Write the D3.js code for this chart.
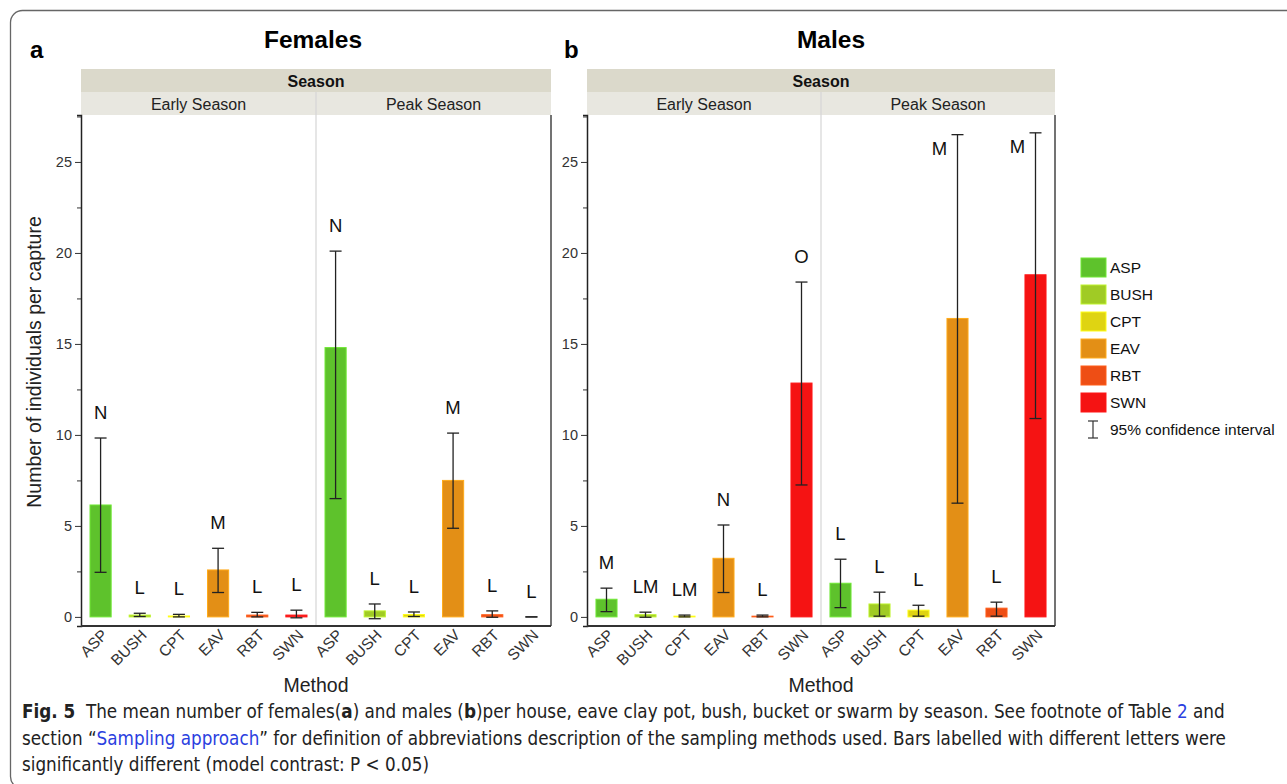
<!DOCTYPE html>
<html>
<head>
<meta charset="utf-8">
<title>Fig. 5</title>
<script src="https://d3js.org/d3.v7.min.js"></script>
<style>
  html, body { margin: 0; padding: 0; background: #fff; }
  svg { display: block; font-family: "Liberation Sans", Arial, Helvetica, sans-serif; }
  .caption { font-family: "Liberation Sans Narrow", "DejaVu Sans Condensed", "Liberation Sans", sans-serif; }
</style>
</head>
<body>
<div id="chart"></div>
<script>
// categories
const methods = ["ASP", "BUSH", "CPT", "EAV", "RBT", "SWN"];
const seasons = ["Early Season", "Peak Season"];
const methodColors = ["#5ec22c", "#a0cb25", "#dfd412", "#e38f16", "#ee4e15", "#f51313"];
const yTicks = [0, 5, 10, 15, 20, 25];
const yMinorTicks = [2.5, 7.5, 12.5, 17.5, 22.5, 27.5];

// Females: early season (6) then peak season (6)
const femaleMean  = [6.15, 0.10, 0.05, 2.58, 0.10, 0.10, 14.8, 0.33, 0.13, 7.50, 0.12, 0.00];
const femaleLow   = [2.45, 0.02, 0.00, 1.34, 0.00, -0.05, 6.50, -0.10, 0.02, 4.87, -0.02, 0.00];
const femaleHigh  = [9.83, 0.20, 0.14, 3.77, 0.25, 0.37, 20.1, 0.71, 0.27, 10.1, 0.33, 0.00];
const femaleLetters = ["N", "L", "L", "M", "L", "L", "N", "L", "L", "M", "L", "L"];

// Males
const maleMean  = [0.97, 0.12, 0.04, 3.22, 0.04, 12.85, 1.85, 0.71, 0.37, 16.4, 0.48, 18.8];
const maleLow   = [0.29, -0.02, 0.00, 1.34, 0.00, 7.25, 0.51, 0.04, 0.04, 6.25, 0.04, 10.9];
const maleHigh  = [1.58, 0.26, 0.10, 5.05, 0.10, 18.4, 3.17, 1.36, 0.64, 26.5, 0.81, 26.6];
const maleLetters = ["M", "LM", "LM", "N", "L", "O", "L", "L", "L", "M", "L", "M"];

const W = 1287, H = 784;
const plotTop = 115, plotBottom = 626;

const svg = d3.select("#chart").append("svg")
  .attr("width", W).attr("height", H);

svg.append("rect").attr("width", W).attr("height", H).attr("fill", "#fff");

// figure card frame
svg.append("rect")
  .attr("x", 10.5).attr("y", 10.5)
  .attr("width", 1400).attr("height", 778)
  .attr("rx", 12)
  .attr("fill", "none").attr("stroke", "#666").attr("stroke-width", 1.3);

const y = d3.scaleLinear().domain([-0.5, 27.58]).range([plotBottom, plotTop]);
const color = d3.scaleOrdinal().domain(methods).range(methodColors);

const panels = [
  { tag: "a", tagX: 30, title: "Females", x0: 81, x1: 551, mean: femaleMean, low: femaleLow, high: femaleHigh, letters: femaleLetters },
  { tag: "b", tagX: 564, title: "Males", x0: 587, x1: 1055, mean: maleMean, low: maleLow, high: maleHigh, letters: maleLetters }
];

panels.forEach(p => {
  const rows = seasons.flatMap((s, si) => methods.map((m, mi) => {
    const i = si * methods.length + mi;
    return { key: s + "|" + m, season: s, method: m, mean: p.mean[i], low: p.low[i], high: p.high[i], letter: p.letters[i] };
  }));

  const x = d3.scaleBand()
    .domain(rows.map(d => d.key))
    .range([p.x0, p.x1])
    .paddingInner(0.46)
    .paddingOuter(0.23);

  const g = svg.append("g");
  const mid = (p.x0 + p.x1) / 2;

  // panel letter and title
  g.append("text").attr("x", p.tagX).attr("y", 58)
    .style("font-size", "24px").style("font-weight", "bold").text(p.tag);
  g.append("text").attr("x", mid + (p.tag === "b" ? 10 : -3)).attr("y", 48)
    .attr("text-anchor", "middle")
    .style("font-size", "24.5px").style("font-weight", "bold").text(p.title);

  // strip headers
  g.append("rect").attr("x", p.x0).attr("y", 69).attr("width", p.x1 - p.x0).attr("height", 23).attr("fill", "#dbd9cb");
  g.append("rect").attr("x", p.x0).attr("y", 92).attr("width", p.x1 - p.x0).attr("height", 23).attr("fill", "#e8e7e0");
  g.append("text").attr("x", mid).attr("y", 87).attr("text-anchor", "middle")
    .style("font-size", "16px").style("font-weight", "bold").attr("fill", "#111").text("Season");
  seasons.forEach((s, si) => {
    const cx = p.x0 + (p.x1 - p.x0) * (si + 0.5) / 2;
    g.append("text").attr("x", cx).attr("y", 109.5).attr("text-anchor", "middle")
      .style("font-size", "16px").attr("fill", "#222").text(s);
  });

  // season divider
  g.append("line").attr("x1", mid).attr("x2", mid).attr("y1", 92).attr("y2", plotBottom)
    .attr("stroke", "#d6d6d6").attr("stroke-width", 1.2);

  // bars
  g.selectAll("rect.bar").data(rows).enter().append("rect")
    .attr("class", "bar")
    .attr("x", d => x(d.key))
    .attr("width", x.bandwidth())
    .attr("y", d => y(Math.max(d.mean, 0)))
    .attr("height", d => y(0) - y(Math.max(d.mean, 0)))
    .attr("fill", d => color(d.method))
    .attr("stroke", d => d3.color(color(d.method)).brighter(0.5))
    .attr("stroke-width", 1)
    .attr("opacity", d => d.mean > 0 ? 1 : 0);

  // error bars
  const eb = g.selectAll("g.err").data(rows).enter().append("g").attr("class", "err")
    .attr("transform", d => `translate(${x(d.key) + x.bandwidth() / 2},0)`)
    .attr("stroke", "#222").attr("stroke-width", 1.3);
  eb.append("line").attr("y1", d => y(d.low)).attr("y2", d => y(d.high));
  eb.append("line").attr("x1", -6).attr("x2", 6).attr("y1", d => y(d.high)).attr("y2", d => y(d.high));
  eb.append("line").attr("x1", -6).attr("x2", 6).attr("y1", d => y(d.low)).attr("y2", d => y(d.low));

  // significance letters (moved beside the cap when there is no room above)
  const tight = d => y(d.high) - 26 < plotTop + 10;
  g.selectAll("text.letter").data(rows).enter().append("text")
    .attr("class", "letter")
    .attr("x", d => x(d.key) + x.bandwidth() / 2 - (tight(d) ? 18 : 0))
    .attr("y", d => (tight(d) ? y(d.high) + 14 : y(d.high) - 26))
    .attr("dy", "0.36em")
    .attr("text-anchor", "middle")
    .style("font-size", "18.5px").attr("fill", "#111")
    .text(d => d.letter);

  // y axis
  g.append("g").attr("transform", `translate(${p.x0},0)`)
    .call(d3.axisLeft(y).tickValues(yMinorTicks).tickSize(4).tickFormat(""))
    .call(a => a.select(".domain").remove())
    .selectAll("line").attr("stroke", "#333");
  const ya = g.append("g").attr("transform", `translate(${p.x0},0)`)
    .call(d3.axisLeft(y).tickValues(yTicks).tickSize(6).tickSizeOuter(4).tickPadding(3));
  ya.select(".domain").attr("stroke", "#222").attr("stroke-width", 1.5);
  ya.selectAll(".tick line").attr("stroke", "#333");
  ya.selectAll(".tick text").style("font-size", "14.5px").attr("fill", "#333");

  // right and bottom frame
  g.append("line").attr("x1", p.x1).attr("x2", p.x1).attr("y1", plotTop).attr("y2", plotBottom)
    .attr("stroke", "#444").attr("stroke-width", 1.5);
  g.append("line").attr("x1", p.x0).attr("x2", p.x1).attr("y1", plotBottom).attr("y2", plotBottom)
    .attr("stroke", "#333").attr("stroke-width", 1.8);

  // x tick labels
  g.selectAll("text.xlab").data(rows).enter().append("text")
    .attr("class", "xlab")
    .attr("transform", d => `translate(${x(d.key) + x.bandwidth() / 2 + 8},${plotBottom + 10}) rotate(-45)`)
    .attr("text-anchor", "end")
    .style("font-size", "15.5px").attr("fill", "#333")
    .text(d => d.method);

  g.append("text").attr("x", mid).attr("y", 692).attr("text-anchor", "middle")
    .style("font-size", "19.5px").attr("fill", "#222").text("Method");
});

// y axis title
svg.append("text")
  .attr("transform", "translate(41,362) rotate(-90)")
  .attr("text-anchor", "middle")
  .style("font-size", "19.5px").attr("fill", "#222")
  .text("Number of individuals per capture");

// legend
const leg = svg.append("g").attr("transform", "translate(1081,258)");
methods.forEach((m, i) => {
  leg.append("rect").attr("x", 0).attr("y", i * 27).attr("width", 25).attr("height", 19)
    .attr("fill", color(m)).attr("stroke", d3.color(color(m)).brighter(0.5));
  leg.append("text").attr("x", 29).attr("y", i * 27 + 15)
    .style("font-size", "15.5px").attr("fill", "#111").text(m);
});
const ci = leg.append("g").attr("stroke", "#333").attr("stroke-width", 1.2);
ci.append("line").attr("x1", 12).attr("x2", 12).attr("y1", 163).attr("y2", 180);
ci.append("line").attr("x1", 7).attr("x2", 17).attr("y1", 163).attr("y2", 163);
ci.append("line").attr("x1", 7).attr("x2", 17).attr("y1", 180).attr("y2", 180);
leg.append("text").attr("x", 29).attr("y", 177)
  .style("font-size", "15.5px").attr("fill", "#111").text("95% confidence interval");

// caption
const cap = svg.append("g").attr("class", "caption").style("font-size", "18.7px").attr("fill", "#222");
const l1 = cap.append("text").attr("x", 22).attr("y", 718);
l1.append("tspan").style("font-weight", "bold").text("Fig. 5");
l1.append("tspan").text("\u00a0 The mean number of females(");
l1.append("tspan").style("font-weight", "bold").text("a");
l1.append("tspan").text(") and males (");
l1.append("tspan").style("font-weight", "bold").text("b");
l1.append("tspan").text(")per house, eave clay pot, bush, bucket or swarm by season. See footnote of Table ");
l1.append("tspan").attr("fill", "#2b3fe0").text("2");
l1.append("tspan").text(" and");
const l2 = cap.append("text").attr("x", 22).attr("y", 745);
l2.append("tspan").text("section \u201c");
l2.append("tspan").attr("fill", "#2b3fe0").text("Sampling approach");
l2.append("tspan").text("\u201d for definition of abbreviations description of the sampling methods used. Bars labelled with different letters were");
cap.append("text").attr("x", 22).attr("y", 771)
  .text("significantly different (model contrast: P < 0.05)");
</script>
</body>
</html>
